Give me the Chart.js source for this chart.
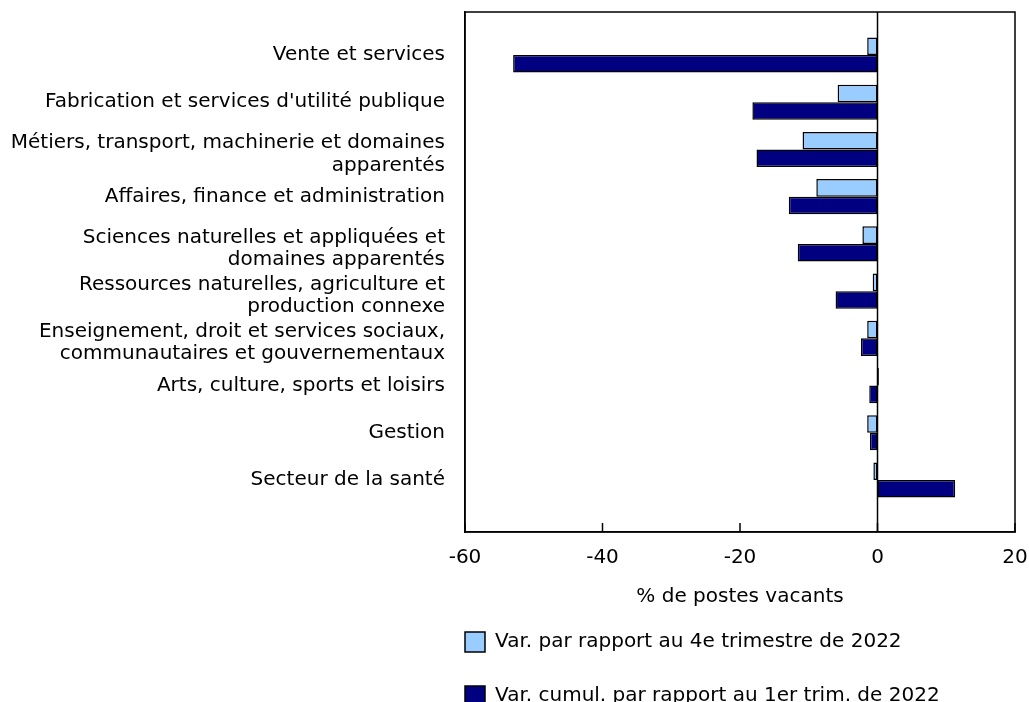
<!DOCTYPE html>
<html>
<head>
<meta charset="utf-8">
<script src="https://cdn.jsdelivr.net/npm/chart.js@4/dist/chart.umd.min.js"></script>
<style>
  html, body { margin: 0; padding: 0; background: #fff; }
  #wrap { width: 1029px; height: 702px; position: relative; }
</style>
</head>
<body>
<div id="wrap"><canvas id="c" width="1029" height="702"></canvas></div>
<script>
const categories = [
  "Vente et services",
  "Fabrication et services d'utilité publique",
  ["Métiers, transport, machinerie et domaines", "apparentés"],
  "Affaires, finance et administration",
  ["Sciences naturelles et appliquées et", "domaines apparentés"],
  ["Ressources naturelles, agriculture et", "production connexe"],
  ["Enseignement, droit et services sociaux,", "communautaires et gouvernementaux"],
  "Arts, culture, sports et loisirs",
  "Gestion",
  "Secteur de la santé"
];
const seriesNames = [
  "Var. par rapport au 4e trimestre de 2022",
  "Var. cumul. par rapport au 1er trim. de 2022"
];
const varQuarter = [-1.5, -5.8, -10.9, -8.9, -2.2, -0.7, -1.5, 0.2, -1.5, -0.6];
const varCumul   = [-53.0, -18.2, -17.6, -12.9, -11.6, -6.1, -2.4, -1.2, -1.1, 11.3];
const xTickValues = [-60, -40, -20, 0, 20];
const xTitle = "% de postes vacants";

const FONT = "'DejaVu Sans', Verdana, sans-serif";
const FS = 20;
const LEG_PAD = 34;
const MULTI_LINE_NUDGE = 0.1; // two-line labels sit slightly lower in the reference

const framePlugin = {
  id: 'frame',
  afterLayout(chart) {
    const lg = chart.legend;
    if (lg) {
      lg.left = chart.chartArea.left - LEG_PAD;
      lg.top = chart.chartArea.bottom + 66;
    }
  },
  afterDatasetsDraw(chart) {
    const {ctx, chartArea: a, scales} = chart;
    ctx.save();
    ctx.strokeStyle = '#000';
    ctx.lineWidth = 1.5;
    ctx.strokeRect(a.left, a.top, a.right - a.left, a.bottom - a.top);
    const x0 = scales.x.getPixelForValue(0);
    ctx.beginPath();
    ctx.moveTo(x0, a.top); ctx.lineTo(x0, a.bottom);
    ctx.stroke();
    scales.x.ticks.forEach(t => {
      const px = scales.x.getPixelForValue(t.value);
      ctx.beginPath();
      ctx.moveTo(px, a.bottom - 9); ctx.lineTo(px, a.bottom);
      ctx.stroke();
    });
    ctx.restore();
  }
};

const toPoints = arr => arr.map((v, i) => ({x: v, y: i}));

new Chart(document.getElementById('c'), {
  type: 'bar',
  data: {
    datasets: [
      {
        label: seriesNames[0],
        data: toPoints(varQuarter),
        backgroundColor: '#99CCFF',
        borderColor: '#000',
        borderWidth: 1.5,
        borderSkipped: false
      },
      {
        label: seriesNames[1],
        data: toPoints(varCumul),
        backgroundColor: '#000080',
        borderColor: '#000',
        borderWidth: 1.5,
        borderSkipped: false
      }
    ]
  },
  options: {
    indexAxis: 'y',
    responsive: false,
    animation: false,
    devicePixelRatio: 1,
    categoryPercentage: 0.826,
    barPercentage: 1.0,
    layout: { padding: { top: 12, right: 14, left: 0, bottom: -25 } },
    scales: {
      x: {
        type: 'linear',
        min: -60, max: 20,
        afterBuildTicks: s => { s.ticks = xTickValues.map(v => ({value: v})); },
        afterFit: s => { s.height = 77; s.paddingLeft = 0; s.paddingRight = 0; },
        grid: { display: false, drawTicks: false },
        border: { display: true, color: '#000', width: 1.5 },
        ticks: { padding: 14, color: '#000', font: { family: FONT, size: FS } },
        title: { display: true, text: xTitle, color: '#000', padding: 0, font: { family: FONT, size: FS } }
      },
      y: {
        type: 'linear',
        reverse: true,
        offset: false,
        min: -0.91, max: 10.1,
        afterBuildTicks: s => {
          s.ticks = categories.map((c, i) => ({value: i + (Array.isArray(c) ? MULTI_LINE_NUDGE : 0)}));
        },
        afterFit: s => { s.width = 465; s.paddingTop = 0; s.paddingBottom = 0; },
        grid: { display: false, drawTicks: false, offset: false },
        border: { display: true, color: '#000', width: 1.5 },
        ticks: {
          autoSkip: false,
          padding: 20,
          color: '#000',
          font: { family: FONT, size: FS, lineHeight: 1.12 },
          callback: (v, i) => categories[i]
        }
      }
    },
    plugins: {
      legend: {
        position: 'bottom',
        fullSize: false,
        align: 'start',
        labels: {
          boxWidth: 20, boxHeight: 20,
          padding: LEG_PAD,
          color: '#000',
          font: { family: FONT, size: FS }
        }
      },
      tooltip: { enabled: false }
    }
  },
  plugins: [framePlugin]
});
</script>
</body>
</html>
